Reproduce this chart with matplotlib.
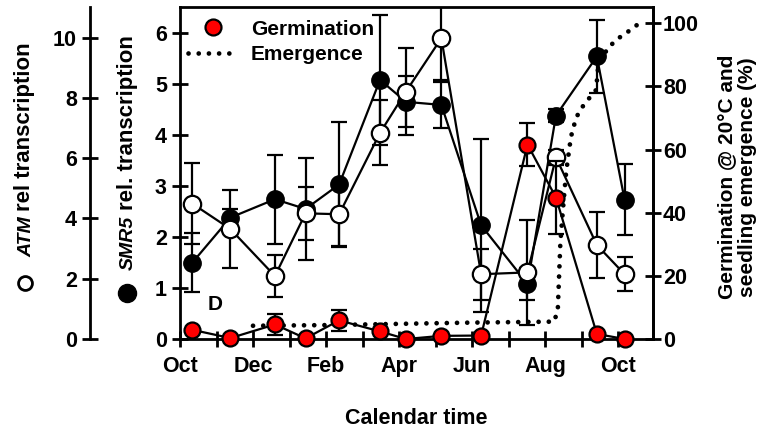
import matplotlib
matplotlib.use("Agg")
import matplotlib.pyplot as plt
from matplotlib.lines import Line2D

plt.rcParams['font.family'] = ['Liberation Sans', 'DejaVu Sans']
plt.rcParams['font.weight'] = 'bold'
plt.rcParams['font.size'] = 15
plt.rcParams['axes.labelweight'] = 'bold'

# sampling dates, in months after 1 October
months = [0.34, 1.38, 2.60, 3.44, 4.36, 5.48, 6.19, 7.16, 8.25, 9.52, 10.30, 11.42, 12.18]

# ATM rel. transcription (open circles)
atm = [4.49, 3.65, 2.09, 4.17, 4.14, 6.84, 8.21, 9.98, 2.15, 2.21, 6.03, 3.12, 2.15]
atm_err = [1.35, 1.30, 0.69, 0.88, 1.05, 1.08, 1.44, 1.40, 0.84, 1.74, 0.25, 1.11, 0.56]

# SMR5 rel. transcription (filled circles)
smr5 = [1.50, 2.38, 2.74, 2.55, 3.03, 5.08, 4.65, 4.59, 2.23, 1.08, 4.38, 5.54, 2.73]
smr5_err = [0.57, 0.17, 0.87, 1.00, 1.23, 1.27, 0.50, 0.45, 1.70, 0.31, 0.13, 0.72, 0.70]

# germination at 20 C (%)
germ = [2.9, 0.3, 4.6, 0.2, 5.9, 2.4, 0.0, 1.0, 1.1, 61.6, 44.8, 1.6, 0.0]
germ_err = [0, 0, 3.4, 0, 3.4, 0, 0, 0, 0, 6.8, 11.6, 0, 0]

# seedling emergence (%)
emerg_months = [2.0, 4.0, 6.0, 8.0, 10.25, 10.35, 10.42, 10.49, 10.58, 10.71,
                10.85, 10.99, 11.17, 11.40, 11.45, 11.70, 11.98, 12.27, 12.56]
emerg = [4.2, 4.4, 4.8, 5.2, 5.5, 9.2, 30.4, 40.9, 53.0, 64.0,
         70.0, 73.0, 75.7, 78.9, 85.5, 91.9, 95.0, 97.3, 99.8]

tick_months = [0, 2, 4, 6, 8, 10, 12]
tick_labels = ['Oct', 'Dec', 'Feb', 'Apr', 'Jun', 'Aug', 'Oct']

fig = plt.figure(figsize=(7.57, 4.30), dpi=100)
ax = fig.add_axes([0.2378, 0.2116, 0.6244, 0.771])
ax_atm = ax.twinx()
ax_g = ax.twinx()

lw = 1.6
tick_kw = dict(direction='inout', length=11, width=2, labelsize=15.5)

# SMR5 - main axis
ax.errorbar(months, smr5, yerr=smr5_err, fmt='-o', color='k', mfc='k', mec='k',
            ms=12.5, lw=lw, elinewidth=lw, capsize=6, capthick=lw)
ax.set_xlim(0, 12.95)
ax.set_ylim(0, 6.5)
ax.set_yticks(range(7))
ax.set_xticks(tick_months)
ax.set_xticklabels(tick_labels)
ax.set_xticks(range(13), minor=True)
ax.tick_params(axis='y', pad=4, **tick_kw)
ax.tick_params(axis='x', which='both', pad=7, **tick_kw)
for s in ax.spines.values():
    s.set_linewidth(2)
ax.set_xlabel('Calendar time', labelpad=22, fontsize=15.5)

# ATM - outer left axis
ax_atm.errorbar(months, atm, yerr=atm_err, fmt='-o', color='k', mfc='w', mec='k',
                mew=lw, ms=12.5, lw=lw, elinewidth=lw, capsize=6, capthick=lw)
ax_atm.set_ylim(0, 11)
ax_atm.set_yticks(range(0, 11, 2))
ax_atm.yaxis.set_ticks_position('left')
ax_atm.yaxis.set_label_position('left')
ax_atm.spines['left'].set_position(('axes', -0.19))
ax_atm.spines['left'].set_linewidth(2)
for k in ['right', 'top', 'bottom']:
    ax_atm.spines[k].set_visible(False)
ax_atm.tick_params(axis='y', pad=4, **tick_kw)

# germination / emergence - right axis
ax_g.errorbar(months, germ, yerr=germ_err, fmt='-o', color='k', mfc='red', mec='k',
              mew=lw, ms=11.5, lw=lw, elinewidth=lw, capsize=6, capthick=lw,
              clip_on=False, zorder=3)
ax_g.plot(emerg_months, emerg, color='k', lw=3.4, linestyle=(0, (0.01, 2.15)),
          dash_capstyle='round', zorder=2)
ax_g.set_ylim(0, 105)
ax_g.set_yticks(range(0, 101, 20))
ax_g.tick_params(axis='y', pad=2, **tick_kw)
for k in ['left', 'top', 'bottom']:
    ax_g.spines[k].set_visible(False)
ax_g.spines['right'].set_linewidth(2)

handles = [Line2D([], [], marker='o', ls='none', mfc='red', mec='k', mew=lw, ms=11.5),
           Line2D([], [], color='k', lw=3.4, linestyle=(0, (0.01, 2.15)),
                  dash_capstyle='round')]
ax_g.legend(handles, ['Germination', 'Emergence'], loc='upper left',
            bbox_to_anchor=(-0.022, 1.02), frameon=False, numpoints=1, fontsize=15,
            handlelength=2.4, handletextpad=0.6, borderpad=0.4, labelspacing=0.3)

ax.text(0.075, 0.105, 'D', transform=ax.transAxes, ha='center', va='center')

# y-axis labels drawn as figure text (condensed italic gene names)
gene_font = ['Liberation Sans Narrow', 'Liberation Sans']
fig.text(0.033, 1 - 211 / 430, 'rel transcription', rotation=90, ha='center',
         va='bottom', fontsize=16)
fig.text(0.035, 1 - 216 / 430, 'ATM', rotation=90, style='italic', ha='center',
         va='top', fontsize=14, family=gene_font)
fig.add_artist(Line2D([25 / 757], [1 - 283 / 430], transform=fig.transFigure,
                      marker='o', mfc='w', mec='k', mew=2, ms=10))
fig.text(0.168, 1 - 210 / 430, 'rel. transcription', rotation=90, ha='center',
         va='bottom', fontsize=16)
fig.text(0.170, 1 - 216 / 430, 'SMR5', rotation=90, style='italic', ha='center',
         va='top', fontsize=14, family=gene_font)
fig.add_artist(Line2D([127 / 757], [1 - 293 / 430], transform=fig.transFigure,
                      marker='o', mfc='k', mec='k', ms=13))
fig.text(0.974, 0.588, 'Germination @ 20\u00b0C and\nseedling emergence (%)',
         rotation=90, ha='center', va='center', multialignment='center',
         linespacing=1.1)

fig.savefig('out.png', dpi=100)
